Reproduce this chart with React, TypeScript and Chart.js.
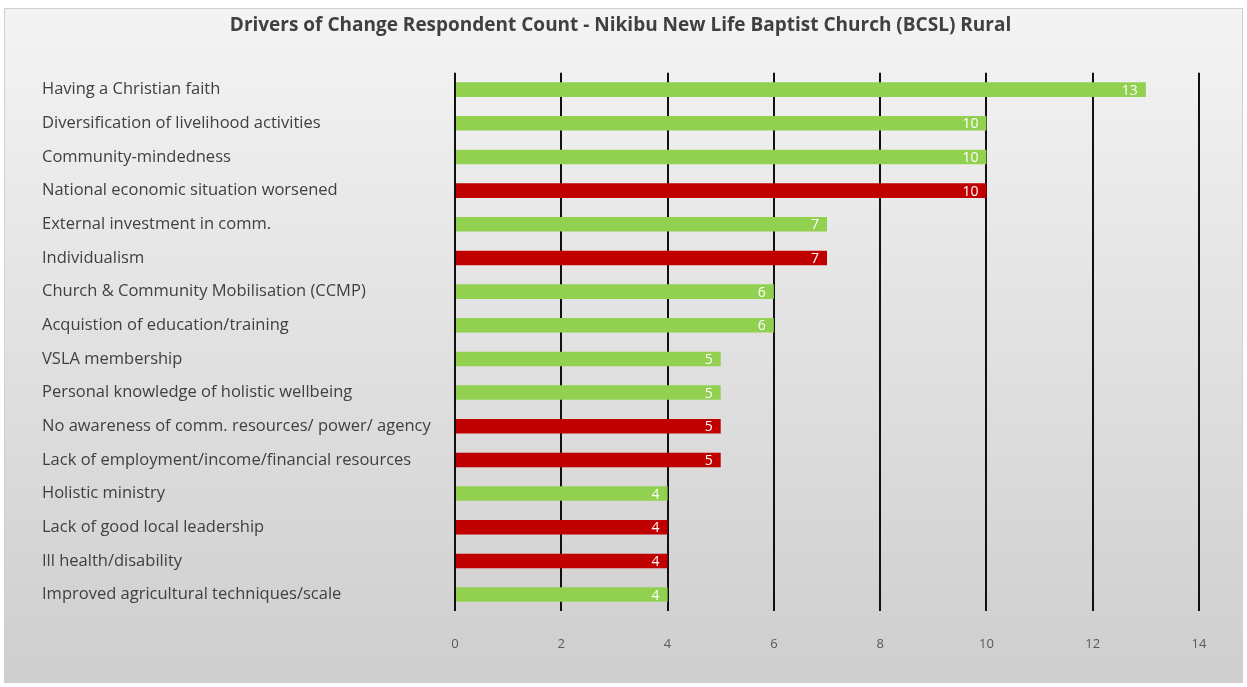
import React, { useEffect, useRef } from "react";
import { Chart, registerables } from "chart.js";

Chart.register(...registerables);

const categories: string[] = [
  "Having a Christian faith",
  "Diversification of livelihood activities",
  "Community-mindedness",
  "National economic situation worsened",
  "External investment in comm.",
  "Individualism",
  "Church & Community Mobilisation (CCMP)",
  "Acquistion of education/training",
  "VSLA membership",
  "Personal knowledge of holistic wellbeing",
  "No awareness of comm. resources/ power/ agency",
  "Lack of employment/income/financial resources",
  "Holistic ministry",
  "Lack of good local leadership",
  "Ill health/disability",
  "Improved agricultural techniques/scale",
];

const counts: number[] = [13, 10, 10, 10, 7, 7, 6, 6, 5, 5, 5, 5, 4, 4, 4, 4];

// true = positive driver (green), false = negative driver (red)
const positive: boolean[] = [
  true, true, true, false, true, false, true, true,
  true, true, false, false, true, false, false, true,
];

const xTicks: number[] = [0, 2, 4, 6, 8, 10, 12, 14];

const GREEN = "#92d050";
const RED = "#c00000";
const FONT = "'Open Sans', 'Noto Sans', sans-serif";

const backgroundPlugin = {
  id: "bgPanel",
  beforeDraw(chart: any) {
    const { ctx, width, height } = chart;
    ctx.save();
    ctx.fillStyle = "#ffffff";
    ctx.fillRect(0, 0, width, height);
    const g = ctx.createLinearGradient(0, 8, 0, height - 4);
    g.addColorStop(0, "#f4f4f4");
    g.addColorStop(1, "#cecece");
    ctx.fillStyle = g;
    ctx.fillRect(4, 8, width - 8, height - 12);
    ctx.strokeStyle = "#d0d0d0";
    ctx.lineWidth = 1;
    ctx.strokeRect(4.5, 8.5, width - 9, height - 13);
    ctx.restore();
  },
};

const valueLabelPlugin = {
  id: "valueLabels",
  afterDatasetsDraw(chart: any) {
    const { ctx } = chart;
    const meta = chart.getDatasetMeta(0);
    ctx.save();
    ctx.fillStyle = "#ffffff";
    ctx.font = `14px ${FONT}`;
    ctx.textAlign = "right";
    ctx.textBaseline = "middle";
    meta.data.forEach((bar: any, i: number) => {
      ctx.fillText(String(counts[i]), bar.x - 8, bar.y + 1);
    });
    ctx.restore();
  },
};

export default function App() {
  const ref = useRef<HTMLCanvasElement | null>(null);

  useEffect(() => {
    document.body.style.margin = "0";
    const canvas = ref.current;
    if (!canvas) return;
    const chart = new Chart(canvas, {
      type: "bar",
      data: {
        labels: categories,
        datasets: [
          {
            data: counts,
            backgroundColor: positive.map((p) => (p ? GREEN : RED)),
            borderWidth: 0,
            barPercentage: 0.9,
            categoryPercentage: 0.48,
          },
        ],
      },
      options: {
        indexAxis: "y",
        responsive: false,
        animation: false,
        layout: { padding: { left: 42, right: 48, top: 0, bottom: 10 } },
        plugins: {
          legend: { display: false },
          tooltip: { enabled: false },
          title: {
            display: true,
            text: "Drivers of Change Respondent Count - Nikibu New Life Baptist Church (BCSL) Rural",
            color: "#404040",
            font: { family: FONT, size: 19, weight: "bold" },
            padding: { top: 14, bottom: 36 },
          },
        },
        scales: {
          x: {
            min: 0,
            max: 14,
            afterBuildTicks(scale: any) {
              scale.ticks = xTicks.map((v) => ({ value: v }));
            },
            grid: {
              color: "#111111",
              lineWidth: 2,
              drawTicks: false,
            },
            border: { display: false },
            ticks: {
              color: "#595959",
              font: { family: FONT, size: 13 },
              padding: 25,
            },
          },
          y: {
            grid: { display: false },
            border: { display: false },
            afterFit(scale: any) {
              scale.width = 413;
            },
            ticks: {
              crossAlign: "far",
              color: "#404040",
              font: { family: FONT, size: 16.5 },
              padding: 0,
            },
          },
        },
      },
      plugins: [backgroundPlugin, valueLabelPlugin],
    });
    return () => chart.destroy();
  }, []);

  return (
    <div style={{ width: 1247, height: 687 }}>
      <canvas ref={ref} width={1247} height={687} />
    </div>
  );
}
